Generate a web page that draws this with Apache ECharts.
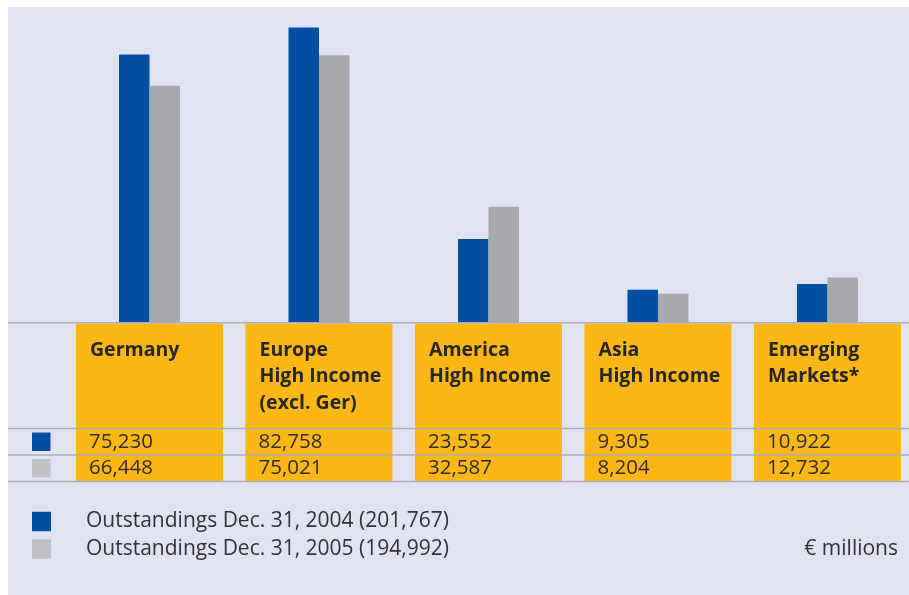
<!DOCTYPE html>
<html>
<head>
<meta charset="utf-8">
<script src="https://cdn.jsdelivr.net/npm/echarts@6/dist/echarts.min.js"></script>
<style>html,body{margin:0;padding:0;background:#fff;overflow:hidden}#c{width:913px;height:595px}</style>
</head>
<body>
<div id="c"></div>
<script>
const categories = ['Germany', 'Europe\nHigh Income\n(excl. Ger)', 'America\nHigh Income', 'Asia\nHigh Income', 'Emerging\nMarkets*'];
const values2004 = [75230, 82758, 23552, 9305, 10922];
const values2005 = [66448, 75021, 32587, 8204, 12732];
const seriesNames = ['Outstandings Dec. 31, 2004 (201,767)', 'Outstandings Dec. 31, 2005 (194,992)'];
const unitLabel = '€ millions';

const BLUE = '#024ea2', GRAY = '#a8a9ad', GRAY_LIGHT = '#c0c1c5', ORANGE = '#fcb714', BG = '#e1e3f2', LINE = '#aeaeb8';
const FONT = 'Open Sans';
const fmt = v => v.toLocaleString('en-US');

const chart = echarts.init(document.getElementById('c'));
const option = {
  backgroundColor: '#ffffff',
  animation: false,
  grid: [
    {left: 64.75, width: 847.5, top: 19.5, bottom: 272},
    {left: 64.75, width: 847.5, top: 323, height: 158}
  ],
  xAxis: [
    {type: 'category', data: categories, gridIndex: 0, axisLine: {show: false}, axisTick: {show: false}, axisLabel: {show: false}},
    {type: 'category', data: categories, gridIndex: 1, axisLine: {show: false}, axisTick: {show: false}, axisLabel: {show: false}}
  ],
  yAxis: [
    {type: 'value', gridIndex: 0, min: 0, max: 85000, show: false, splitLine: {show: false}},
    {type: 'value', gridIndex: 1, min: 0, max: 158, inverse: true, show: false, splitLine: {show: false}}
  ],
  legend: {
    orient: 'vertical', left: 32, top: 511, padding: 0, itemWidth: 19, itemHeight: 19.5, itemGap: 6.5, icon: 'rect',
    selectedMode: false,
    textStyle: {fontFamily: FONT, fontSize: 21, color: '#333', padding: [2, 0, 0, 30]},
    data: [
      {name: seriesNames[0], itemStyle: {color: BLUE}},
      {name: seriesNames[1], itemStyle: {color: GRAY_LIGHT}}
    ]
  },
  series: [
    {name: seriesNames[0], type: 'bar', xAxisIndex: 0, yAxisIndex: 0, data: values2004, barWidth: 30.5, barGap: '0%', itemStyle: {color: BLUE}},
    {name: seriesNames[1], type: 'bar', xAxisIndex: 0, yAxisIndex: 0, data: values2005, barWidth: 30.5, barGap: '0%', itemStyle: {color: GRAY}},
    {
      type: 'custom', xAxisIndex: 1, yAxisIndex: 1,
      data: categories.map((c, i) => [i, 0]),
      renderItem: function (params, api) {
        const i = api.value(0);
        const p0 = api.coord([i, 0]);
        const p1 = api.coord([i, 158]);
        const r1 = api.coord([i, 119]);
        const r2 = api.coord([i, 145]);
        const xc = p0[0];
        const left = xc - 73.5;
        return {
          type: 'group',
          children: [
            {type: 'rect', shape: {x: left, y: p0[1] + 0.5, width: 147, height: p1[1] - p0[1] - 0.5}, style: {fill: ORANGE}},
            {type: 'text', x: left + 14, y: p0[1] + 14, style: {text: categories[i], font: 'bold 19.5px "' + FONT + '"', fill: '#262626', lineHeight: 26.5, textAlign: 'left', textVerticalAlign: 'top'}},
            {type: 'text', x: left + 13, y: r1[1], style: {text: fmt(values2004[i]), font: '20.5px "' + FONT + '"', fill: '#2e2e2e', textAlign: 'left', textVerticalAlign: 'middle'}},
            {type: 'text', x: left + 13, y: r2[1], style: {text: fmt(values2005[i]), font: '20.5px "' + FONT + '"', fill: '#2e2e2e', textAlign: 'left', textVerticalAlign: 'middle'}}
          ]
        };
      }
    }
  ],
  graphic: [
    {type: 'rect', z: -10, shape: {x: 8, y: 7, width: 905, height: 588}, style: {fill: BG}},
    {type: 'line', z: 100, shape: {x1: 8, y1: 322.7, x2: 913, y2: 322.7}, style: {stroke: LINE, lineWidth: 1.5}},
    {type: 'line', z: 100, shape: {x1: 8, y1: 428.5, x2: 913, y2: 428.5}, style: {stroke: LINE, lineWidth: 1.5}},
    {type: 'line', z: 100, shape: {x1: 8, y1: 455, x2: 913, y2: 455}, style: {stroke: LINE, lineWidth: 1.5}},
    {type: 'line', z: 100, shape: {x1: 8, y1: 481.5, x2: 913, y2: 481.5}, style: {stroke: LINE, lineWidth: 1.5}},
    {type: 'rect', z: 100, shape: {x: 32, y: 432.5, width: 18.5, height: 18.5}, style: {fill: BLUE}},
    {type: 'rect', z: 100, shape: {x: 32, y: 459, width: 18.5, height: 18.5}, style: {fill: GRAY_LIGHT}},
    {type: 'text', z: 100, x: 898, y: 549, style: {text: unitLabel, font: '21px "' + FONT + '"', fill: '#333', textAlign: 'right', textVerticalAlign: 'middle'}}
  ]
};
chart.setOption(option);
</script>
</body>
</html>
